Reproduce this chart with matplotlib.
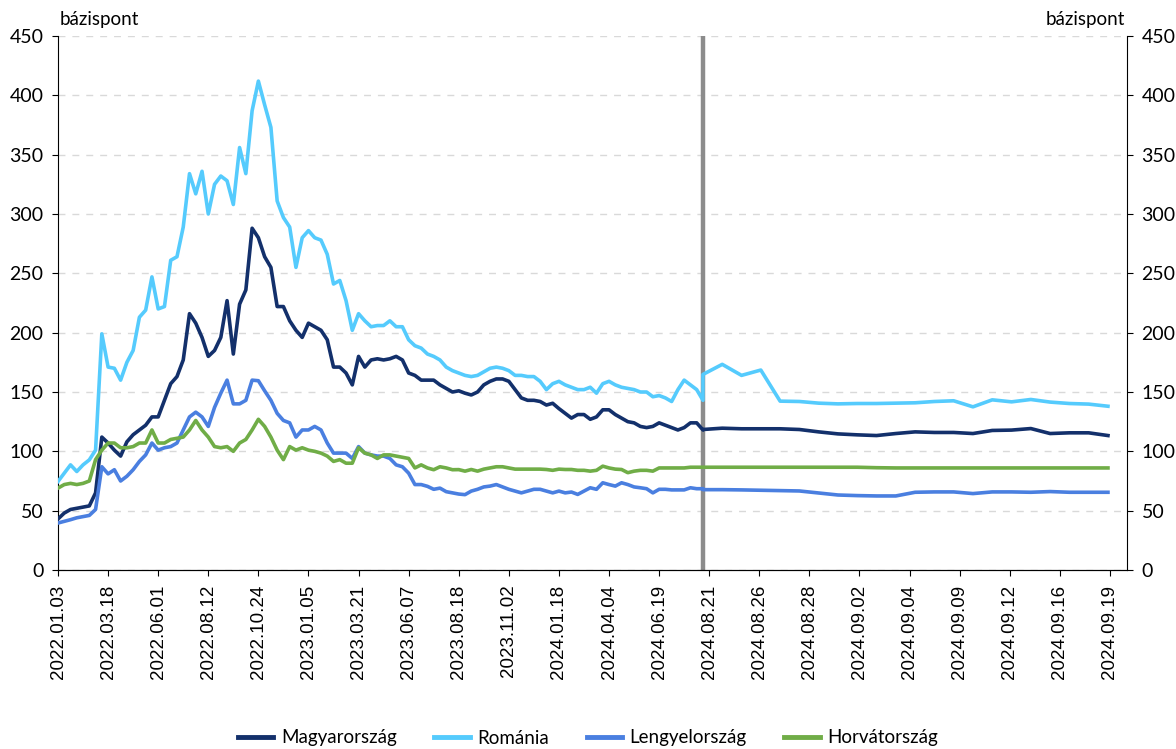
import numpy as np
import matplotlib
matplotlib.use("Agg")
import matplotlib.pyplot as plt

# tick labels (one per tick position)
tick_labels = ["2022.01.03", "2022.03.18", "2022.06.01", "2022.08.12", "2022.10.24",
               "2023.01.05", "2023.03.21", "2023.06.07", "2023.08.18", "2023.11.02",
               "2024.01.18", "2024.04.04", "2024.06.19", "2024.08.21", "2024.08.26",
               "2024.08.28", "2024.09.02", "2024.09.04", "2024.09.09", "2024.09.12",
               "2024.09.16", "2024.09.19"]

# historical daily-ish part (8 samples per tick interval)
magyar_hist = [43, 48, 51, 52, 53, 54, 65, 112, 107, 101, 96, 108, 114, 118, 122, 129,
               129, 143, 157, 163, 177, 216, 208, 196, 180, 185, 196, 227, 182, 224, 236, 288,
               280, 264, 255, 222, 222, 210, 202, 196, 208, 205, 202, 194, 171, 171, 166, 156,
               180, 171, 177, 178, 177, 178, 180, 177, 166, 164, 160, 160, 160, 156, 153, 150,
               151, 149, 147.5, 150, 156, 159, 161, 161, 159, 152, 145, 143, 143, 142, 139, 140.5,
               136, 132, 128, 131, 131, 127, 129, 135, 135, 131, 128, 125, 124, 121, 120, 121,
               124, 122, 120, 118, 120, 124, 124, 118]
romania_hist = [74.6, 81.6, 88.6, 83, 88.6, 92.8, 101, 199, 171, 170, 160, 175, 185, 213, 219, 247,
                220, 222, 261, 264, 289, 334, 317, 336, 300, 325, 332, 328, 308, 356, 334, 387,
                412, 392, 373, 311, 297, 289, 255, 280, 286, 280, 278, 266, 241, 244, 227, 202,
                216, 210, 205, 206, 206, 210, 205, 205, 194, 189, 187, 182, 180, 177, 171, 168,
                166, 164, 163, 164, 167, 170, 171, 170, 168, 164, 164, 163, 163, 159, 152, 157,
                159, 156, 154, 152, 152, 154, 149, 157, 159, 156, 154, 153, 152, 150, 150, 146,
                147, 145, 142, 152, 160, 156, 152, 143]
lengyel_hist = [39.6, 41, 42.4, 44, 45, 46, 51, 87, 81, 84.5, 75, 79, 84.5, 91.5, 97, 107,
                101, 103, 104, 107, 118, 129, 133, 129, 121, 137, 149, 160, 140, 140, 143, 160,
                159.5, 151, 143, 132, 126, 124, 112, 118, 118, 121, 118, 107, 98.5, 98.5, 98.5, 94,
                104, 98.5, 97, 96, 96, 94, 88.6, 87, 81.6, 72, 72, 70.5, 68, 69, 66, 65,
                64, 63.5, 66.5, 68, 70, 70.7, 72, 70, 68, 66.5, 65, 66.5, 68, 68, 66.5, 65,
                66.5, 65, 65.7, 63.7, 66.5, 69.3, 68, 73.5, 72, 70.7, 73.5, 72, 70, 69.3, 68.5, 65,
                68, 68, 67.5, 67.5, 67.5, 69.3, 68.5, 68.5]
horvat_hist = [69, 72, 73, 72, 73, 75, 93, 101, 107, 107, 103, 103, 104, 107, 107, 118,
               107, 107, 110, 111, 112, 118, 126, 118, 112, 104, 103, 104, 100, 107, 110, 118,
               127, 121, 112, 101, 93, 104, 101, 103, 101, 100, 98.5, 96, 91.5, 93, 90, 90,
               103, 98.5, 97, 94, 97, 97, 96, 95, 94, 86, 88.6, 86, 84.5, 87, 86, 84.5,
               84.6, 83.3, 84.7, 83.3, 85, 86, 87, 87, 86, 85, 85, 85, 85, 85, 84.7, 84,
               85, 84.7, 84.7, 84, 84, 83.3, 84, 87.5, 86, 85, 84.7, 82, 83.3, 84, 84, 83.3,
               86, 86, 86, 86, 86, 86.6, 86.6, 86.6]

# recent daily part (2024.08.21 - 2024.09.19)
magyar_recent = [118.4, 119.5, 119, 119, 119, 118.4, 116.4, 114.7, 113.9, 113.3, 115,
                 116.4, 115.9, 115.9, 115, 117.6, 117.9, 119.2, 115, 115.6, 115.6, 113.3]
romania_recent = [164.8, 173.3, 164, 168.5, 142.3, 142, 140.6, 140, 140.3, 140.3, 140.6,
                  140.9, 142, 142.6, 137.5, 143.4, 141.7, 143.7, 141.5, 140.3, 139.8, 138]
lengyel_recent = [67.7, 67.7, 67.5, 67.2, 66.9, 66.6, 64.9, 63.2, 62.7, 62.4, 62.4,
                  65.5, 65.8, 65.8, 64.4, 65.8, 65.8, 65.5, 66.1, 65.5, 65.5, 65.5]
horvat_recent = [86.6, 86.6, 86.6, 86.6, 86.6, 86.6, 86.6, 86.6, 86.6, 86.2, 86,
                 86, 86, 86, 86, 86, 86, 86, 86, 86, 86, 86]

series_names = ["Magyarország", "Románia", "Lengyelország", "Horvátország"]
colors = ["#13306B", "#55CBFD", "#4A7FE0", "#70AD47"]

# x scale: one unit per tick label
hist_step = 0.125
recent_step = 0.385
x_hist = np.arange(len(magyar_hist)) * hist_step
x_break = x_hist[-1]
x_recent = x_break + np.arange(len(magyar_recent)) * recent_step

fig = plt.figure(figsize=(11.76, 7.49), dpi=100)
ax = fig.add_axes([58 / 1176, 1 - 570 / 749, (1127 - 58) / 1176, (570 - 36) / 749])

ax.axvline(x_break, color="#8C8C8C", lw=3.2, zorder=1)

hist = [magyar_hist, romania_hist, lengyel_hist, horvat_hist]
recent = [magyar_recent, romania_recent, lengyel_recent, horvat_recent]
for name, col, h, r in zip(series_names, colors, hist, recent):
    xs = np.concatenate([x_hist, x_recent])
    ys = np.concatenate([h, r])
    ax.plot(xs, ys, color=col, lw=2.6, label=name, zorder=3, solid_joinstyle="round")

ax.set_xlim(0, 21.34)
ax.set_ylim(0, 450)
ax.set_yticks(np.arange(0, 451, 50))
ax.set_xticks(np.arange(len(tick_labels)))
ax.set_xticklabels(tick_labels, rotation=90, fontsize=13.5, family="Liberation Sans")
ax.grid(axis="y", color="#D9D9D9", ls=(0, (5, 5)), lw=1)
ax.set_axisbelow(True)
ax.spines["top"].set_visible(False)
ax.spines["right"].set_visible(False)
ax.tick_params(axis="y", length=4.5, pad=6, labelsize=14)
ax.tick_params(axis="x", length=4.5, pad=6)
for lbl in ax.get_yticklabels():
    lbl.set_family("Lato")

ax2 = ax.twinx()
ax2.set_ylim(0, 450)
ax2.set_yticks(np.arange(0, 451, 50))
ax2.tick_params(axis="y", length=4.5, pad=6, labelsize=14)
for lbl in ax2.get_yticklabels():
    lbl.set_family("Lato")
ax2.spines["top"].set_visible(False)
ax2.spines["left"].set_visible(False)

fig.text(60 / 1176, 1 - 20 / 749, "bázispont", ha="left", va="center", fontsize=13.5, family="Lato")
fig.text(1125 / 1176, 1 - 20 / 749, "bázispont", ha="right", va="center", fontsize=13.5, family="Lato")

handles, labels = ax.get_legend_handles_labels()
leg = fig.legend(handles, labels, loc="center", bbox_to_anchor=(0.5, 1 - 738 / 749), ncol=4,
                 frameon=False, handlelength=1.9, handletextpad=0.4, columnspacing=2.0,
                 prop={"family": "Lato", "size": 13.5})
for line in leg.get_lines():
    line.set_linewidth(3.5)

fig.savefig("out.png", dpi=100)
